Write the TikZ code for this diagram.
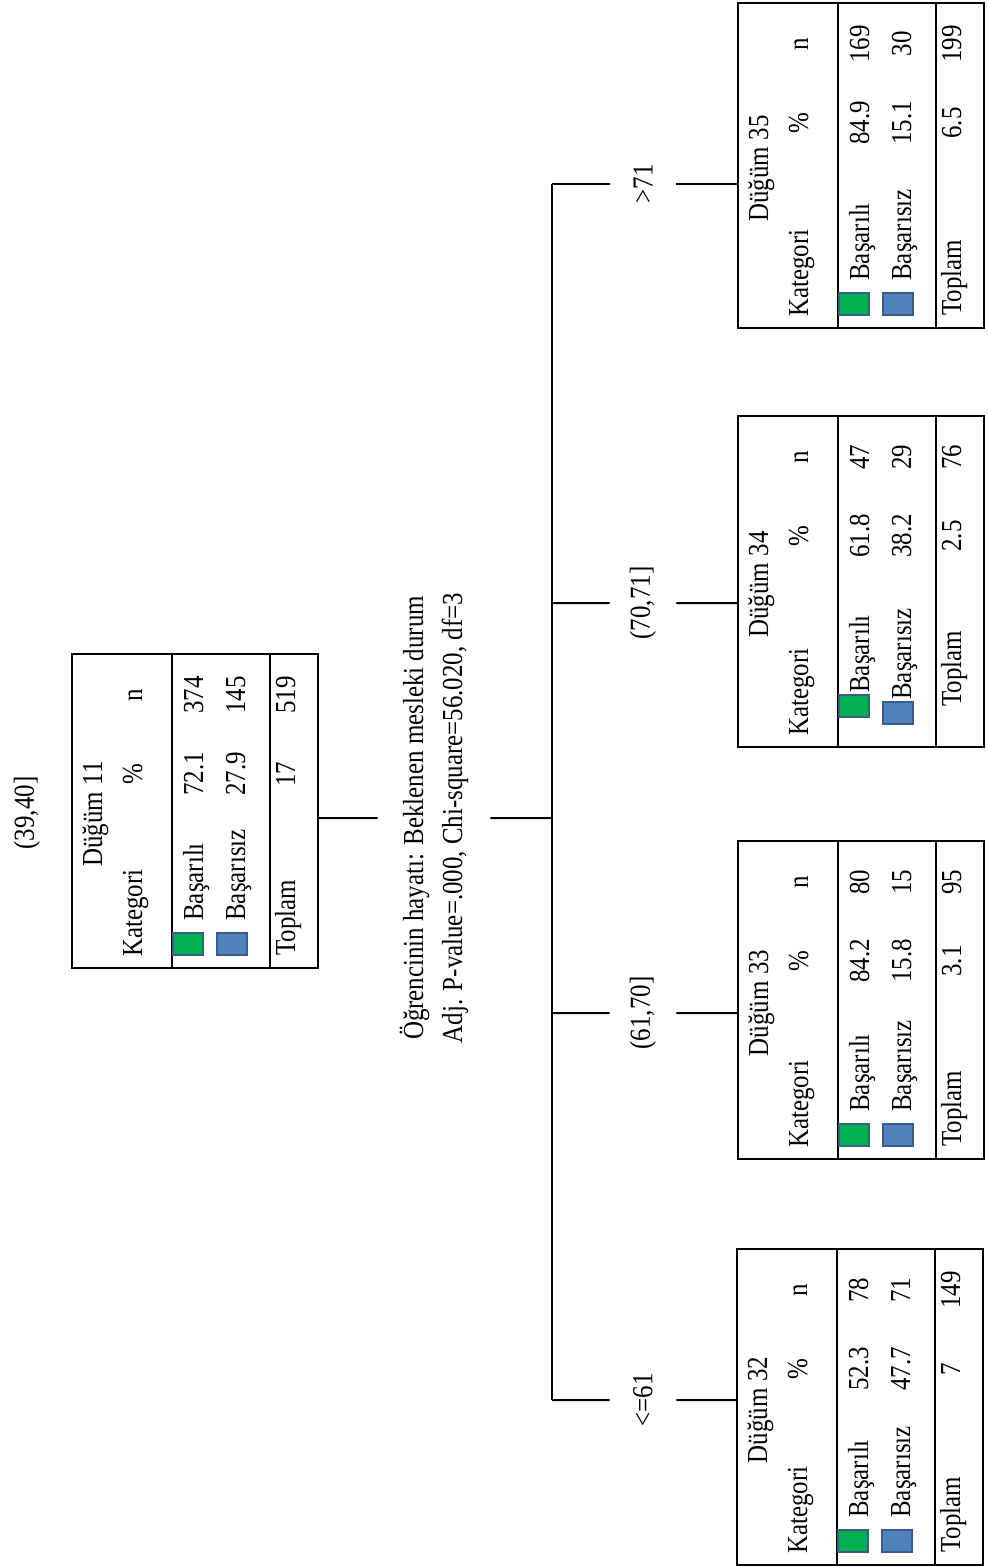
\documentclass[tikz,border=0pt]{standalone}
\usepackage{fontspec}
\setmainfont{Liberation Serif}

\definecolor{yesil}{HTML}{00B050}
\definecolor{mavi}{HTML}{4F81BD}
\definecolor{kenar}{HTML}{385D8A}

% shifts of the body rows (text, green, text, blue, total)
\newcommand{\kaydir}[5]{\def\kA{#1}\def\kG{#2}\def\kB{#3}\def\kM{#4}\def\kT{#5}}
\kaydir{0}{0}{0}{0}{0}

% one node box: left, top, bottom, number, pct1, n1, pct2, n2, pct total
\newcommand{\dugum}[9]{%
  \node[kutu, minimum width=123pt, minimum height={(#3-#2)*0.5pt}] (n#4) at (#1+123, {(#2+#3)/2}) {};
  \draw[cizgi] (#1+100,#2) -- (#1+100,#3);
  \draw[cizgi] (#1+198,#2) -- (#1+198,#3);
  \node[yazi, anchor=base] at (#1+30, {(#2+#3)/2+3}) {Düğüm #4};
  \node[yazi, anchor=base west] at (#1+70, #3-11) {Kategori};
  \node[yazi, anchor=base] at (#1+70, #2+120) {\%};
  \node[yazi, anchor=base] at (#1+70, #2+41) {n};
  \filldraw[kare, fill=yesil] (#1+101, #3-35-\kG) rectangle (#1+131, #3-13-\kG);
  \filldraw[kare, fill=mavi] (#1+145, #3-35-\kM) rectangle (#1+175, #3-13-\kM);
  \node[yazi, anchor=base west] at (#1+131, #3-47-\kA) {Başarılı};
  \node[yazi, anchor=base] at (#1+131, #2+120) {#5};
  \node[yazi, anchor=base] at (#1+131, #2+41) {#6};
  \node[yazi, anchor=base west] at (#1+173, #3-47-\kB) {Başarısız};
  \node[yazi, anchor=base] at (#1+173, #2+120) {#7};
  \node[yazi, anchor=base] at (#1+173, #2+41) {#8};
  \node[yazi, anchor=base west] at (#1+223, #3-12-\kT) {Toplam};
  \node[yazi, anchor=base] at (#1+223, #2+120) {#9};
  \node[yazi, anchor=base] at (#1+223, #2+41) {\the\numexpr#6+#8\relax};
}

\begin{document}
\begin{tikzpicture}[
    x=0.5pt, y=-0.5pt,
    font={\fontsize{14.5}{17}\selectfont},
    kutu/.style={draw, line width=1pt, inner sep=0pt},
    cizgi/.style={line width=1pt},
    kare/.style={draw=kenar, line width=1pt},
    yazi/.style={rotate=90, xscale=0.86, inner sep=0pt},
    etiket/.style={rotate=90, xscale=0.86, inner sep=0pt, minimum height=33pt},
    baglanti/.style={line width=1pt}
]
    \useasboundingbox (0,0) rectangle (988,1567);

    % Root node
    \node[etiket] (ust) at (27,813) {(39,40]};
    \dugum{72}{654}{968}{11}{72.1}{374}{27.9}{145}{17}

    % Split
    \node[etiket, minimum height=56pt, align=center, font={\fontsize{14.5}{19.5}\selectfont}] (bolum) at (434,818)
        {Öğrencinin hayatı: Beklenen mesleki durum\\Adj. P-value=.000, Chi-square=56.020, df=3};
    \coordinate (kol) at (552,818);

    % Child nodes
    \dugum{738}{3}{328}{35}{84.9}{169}{15.1}{30}{6.5}
    \kaydir{7}{17}{0}{10}{28}
    \dugum{738}{416}{747}{34}{61.8}{47}{38.2}{29}{2.5}
    \kaydir{0}{0}{0}{0}{0}
    \dugum{738}{841}{1159}{33}{84.2}{80}{15.8}{15}{3.1}
    \dugum{737}{1249}{1565}{32}{52.3}{78}{47.7}{71}{7}

    % Branch labels
    \node[etiket] (e35) at (643,184) {>71};
    \node[etiket] (e34) at (643,603) {(70,71]};
    \node[etiket] (e33) at (643,1013) {(61,70]};
    \node[etiket] (e32) at (643,1400) {<=61};

    % Connectors
    \draw[baglanti] (n11.east |- bolum) -- (bolum) -- (kol);
    \draw[baglanti] (kol |- e35) -- (kol |- e32);
    \foreach \k in {35,34,33,32}
        \draw[baglanti] (kol |- e\k) -- (e\k) -- (e\k -| n\k.west);
\end{tikzpicture}
\end{document}
